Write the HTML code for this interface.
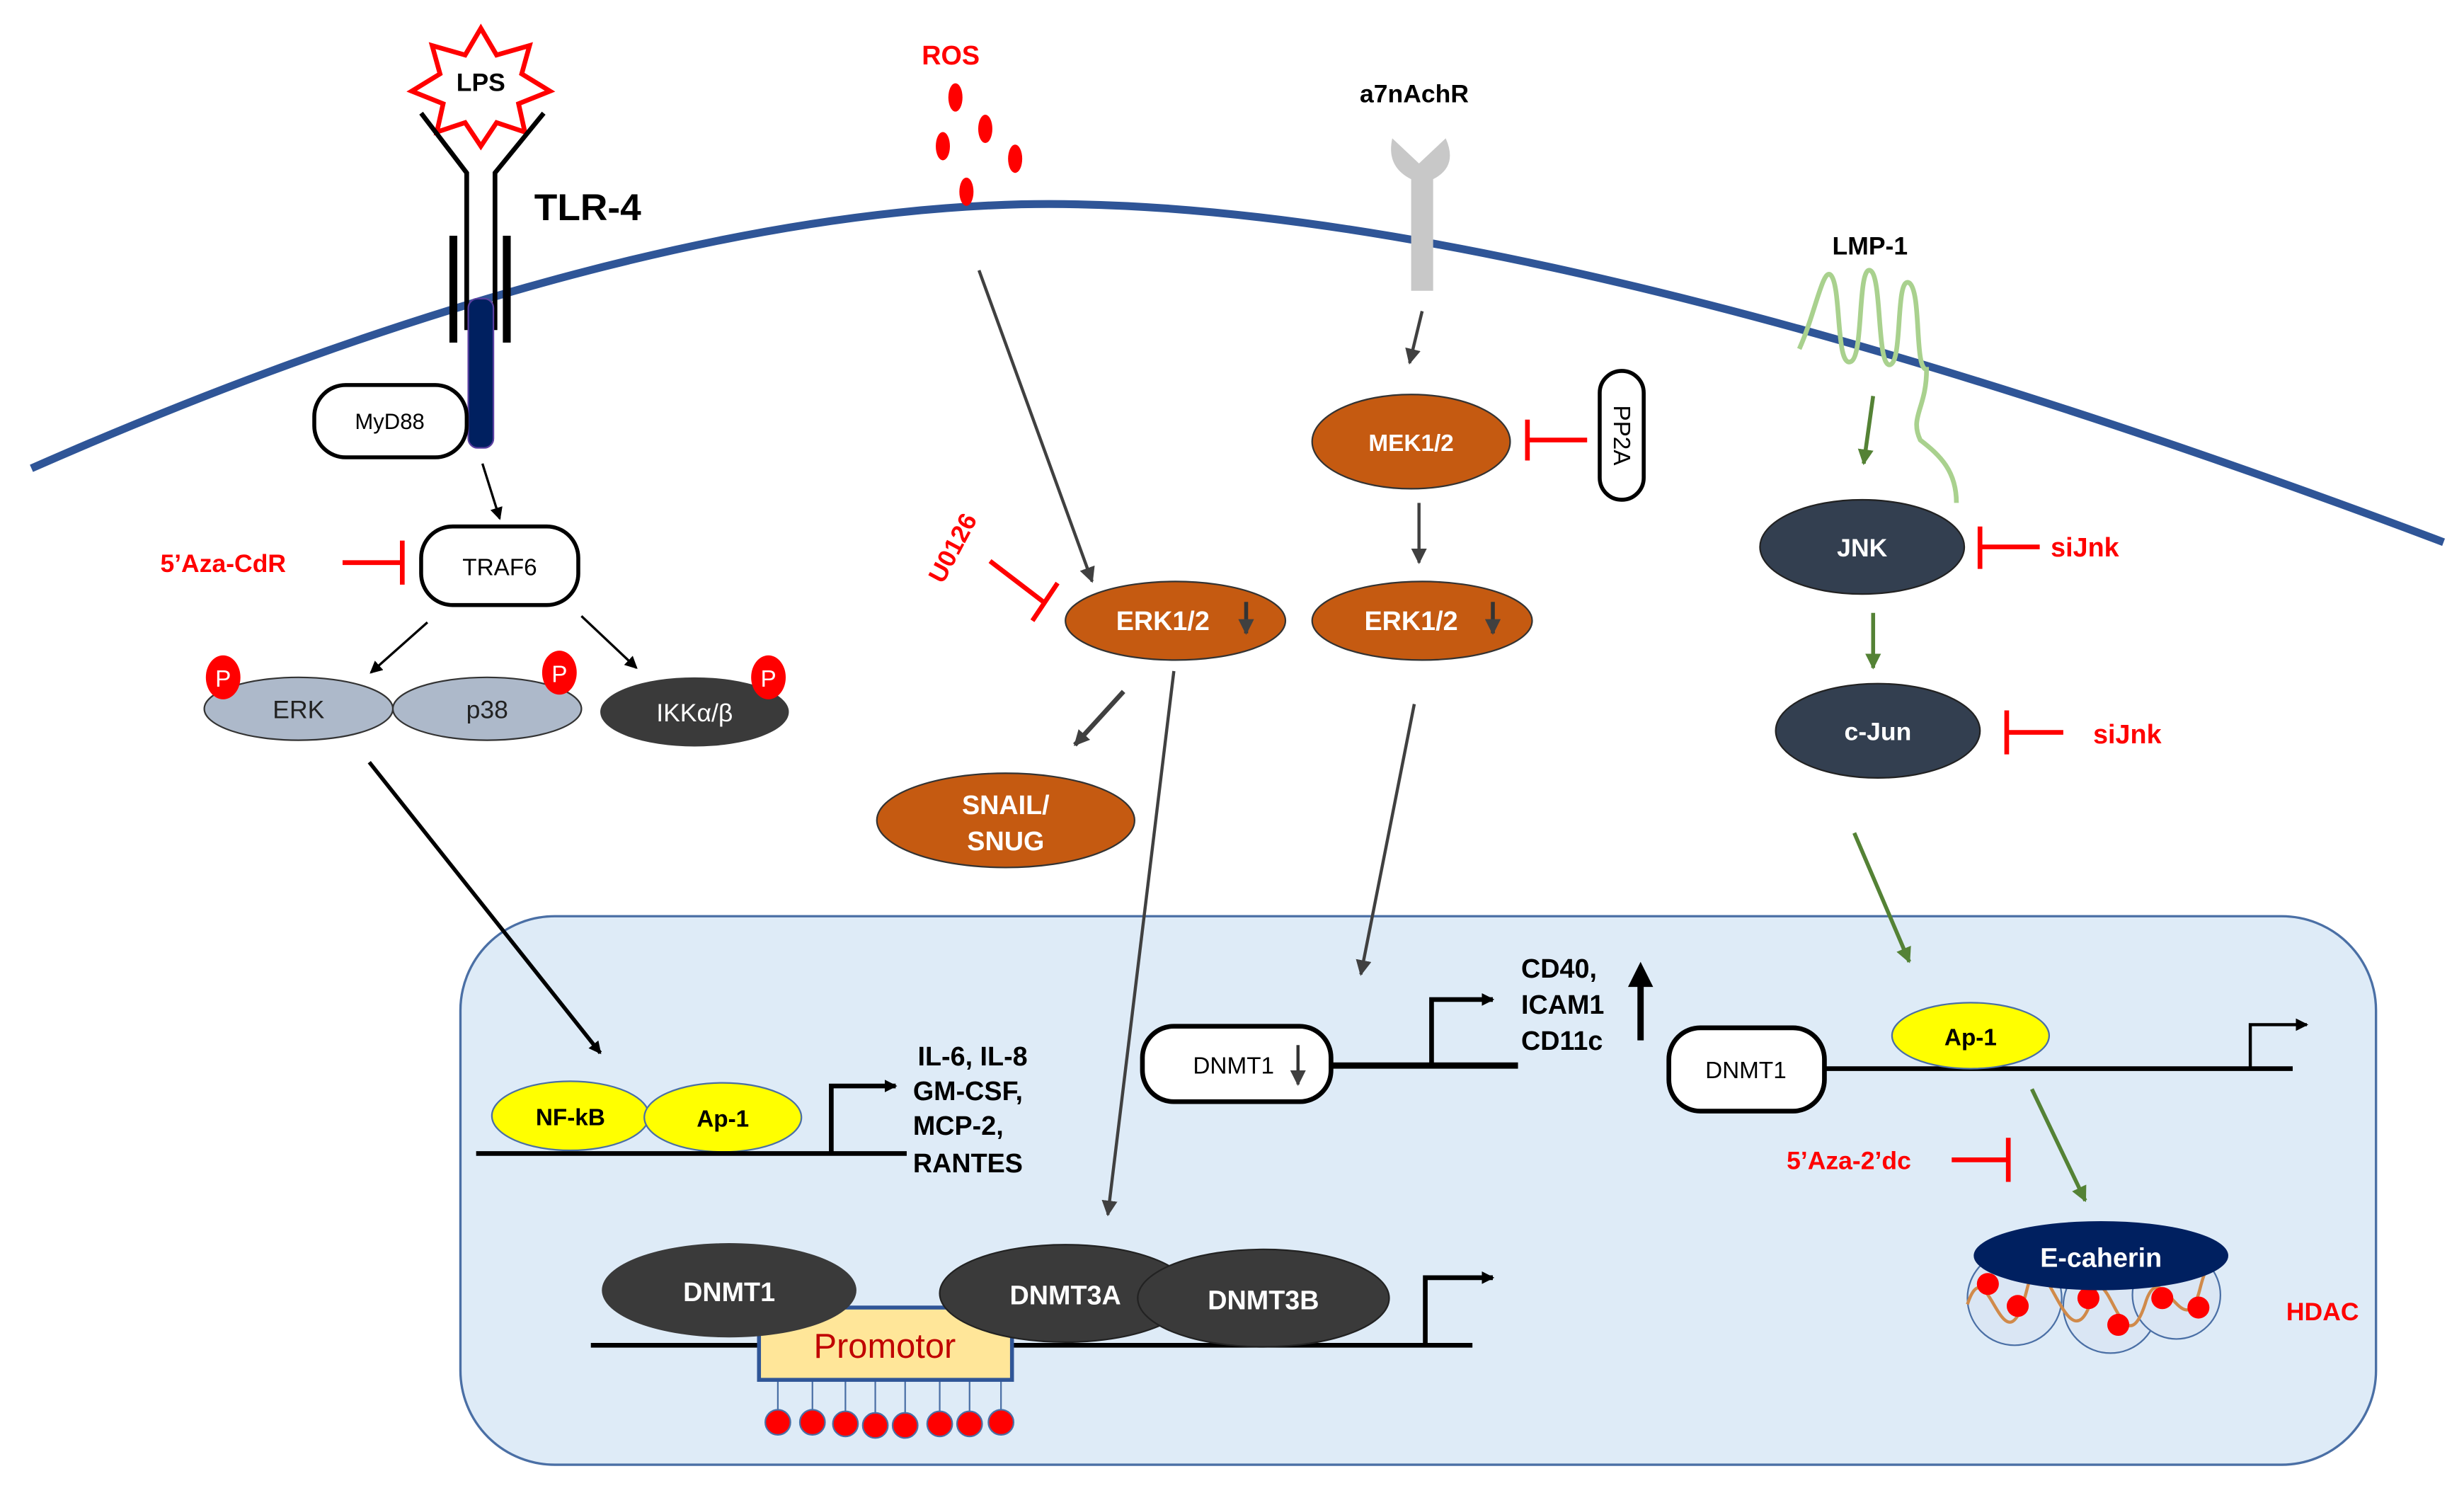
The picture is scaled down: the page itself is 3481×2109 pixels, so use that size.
<!DOCTYPE html>
<html><head><meta charset="utf-8"><style>
html,body{margin:0;padding:0;background:#fff;}
svg{display:block;}
text{font-family:"Liberation Sans",sans-serif;}
</style></head><body>
<svg width="3481" height="2109" viewBox="0 0 1568 950" preserveAspectRatio="none" xmlns="http://www.w3.org/2000/svg">
<defs>
<marker id="ab" markerWidth="8" markerHeight="8" refX="7" refY="4" orient="auto" markerUnits="userSpaceOnUse"><path d="M0,0 L8,4 L0,8 z" fill="#000"/></marker>
<marker id="ag" markerWidth="10" markerHeight="10" refX="9" refY="5" orient="auto" markerUnits="userSpaceOnUse"><path d="M0,0 L10,5 L0,10 z" fill="#404040"/></marker>
<marker id="agr" markerWidth="10" markerHeight="10" refX="9" refY="5" orient="auto" markerUnits="userSpaceOnUse"><path d="M0,0 L10,5 L0,10 z" fill="#548235"/></marker>
</defs>

<rect x="293" y="583" width="1219" height="349" rx="60" fill="#deebf7" stroke="#4a6fa5" stroke-width="1.5"/>

<path d="M20,298 C220,210 450,135 650,130 C900,125 1250,230 1555,345" fill="none" stroke="#2f5597" stroke-width="5"/>

<polygon points="306,18 316,35 337,29 332,47 350,58 330,66 334,84 316,78 306,93 296,78 278,84 282,66 262,58 280,47 275,29 296,35" fill="#fff" stroke="#ff0000" stroke-width="3"/>
<text x="306" y="58" font-size="16" font-weight="bold" text-anchor="middle">LPS</text>
<g stroke="#000" stroke-width="3" fill="none">
<path d="M268,72 L297,110 L297,210"/><path d="M346,72 L315,110 L315,210"/>
</g>
<rect x="286" y="150" width="5" height="68" fill="#000"/>
<rect x="320" y="150" width="5" height="68" fill="#000"/>
<rect x="298" y="190" width="16" height="95" rx="6" fill="#002060" stroke="#5a3fa0" stroke-width="1"/>
<text x="340" y="140" font-size="24" font-weight="bold">TLR-4</text>
<rect x="200" y="245" width="97" height="46" rx="20" fill="#fff" stroke="#000" stroke-width="2.5"/>
<text x="248" y="273" font-size="14" text-anchor="middle">MyD88</text>
<line x1="307" y1="295" x2="318" y2="330" stroke="#000" stroke-width="1.5" marker-end="url(#ab)"/>
<rect x="268" y="335" width="100" height="50" rx="20" fill="#fff" stroke="#000" stroke-width="2.5"/>
<text x="318" y="366" font-size="15" text-anchor="middle">TRAF6</text>
<text x="102" y="364" font-size="16" font-weight="bold" fill="#ff0000">5’Aza-CdR</text>
<line x1="218" y1="358" x2="255" y2="358" stroke="#ff0000" stroke-width="3"/>
<line x1="256" y1="344" x2="256" y2="372" stroke="#ff0000" stroke-width="3"/>
<line x1="272" y1="396" x2="236" y2="428" stroke="#000" stroke-width="1.5" marker-end="url(#ab)"/>
<line x1="370" y1="392" x2="405" y2="425" stroke="#000" stroke-width="1.5" marker-end="url(#ab)"/>
<ellipse cx="190" cy="451" rx="60" ry="20" fill="#adb9ca" stroke="#333" stroke-width="1"/>
<ellipse cx="310" cy="451" rx="60" ry="20" fill="#adb9ca" stroke="#333" stroke-width="1"/>
<text x="190" y="457" font-size="16" text-anchor="middle" fill="#222">ERK</text>
<text x="310" y="457" font-size="16" text-anchor="middle" fill="#222">p38</text>
<ellipse cx="442" cy="453" rx="60" ry="22" fill="#3a3a3a"/>
<text x="442" y="459" font-size="16" text-anchor="middle" fill="#fff">IKKα/β</text>
<g fill="#ff0000"><ellipse cx="142" cy="431" rx="11" ry="14"/><ellipse cx="356" cy="428" rx="11" ry="14"/><ellipse cx="489" cy="431" rx="11" ry="14"/></g>
<g font-size="15" fill="#fff" text-anchor="middle"><text x="142" y="437">P</text><text x="356" y="434">P</text><text x="489" y="437">P</text></g>
<line x1="235" y1="485" x2="382" y2="670" stroke="#000" stroke-width="2.5" marker-end="url(#ab)"/>

<text x="605" y="41" font-size="17" font-weight="bold" fill="#ff0000" text-anchor="middle">ROS</text>
<g fill="#ff0000"><ellipse cx="608" cy="62" rx="4.5" ry="9"/><ellipse cx="627" cy="82" rx="4.5" ry="9"/><ellipse cx="600" cy="93" rx="4.5" ry="9"/><ellipse cx="646" cy="101" rx="4.5" ry="9"/><ellipse cx="615" cy="122" rx="4.5" ry="9"/></g>
<line x1="623" y1="172" x2="695" y2="370" stroke="#404040" stroke-width="2" marker-end="url(#ag)"/>
<text x="0" y="0" font-size="16" font-weight="bold" fill="#ff0000" transform="translate(600,372) rotate(-62)">U0126</text>
<line x1="630" y1="357" x2="664" y2="383" stroke="#ff0000" stroke-width="3"/>
<line x1="673" y1="371" x2="657" y2="395" stroke="#ff0000" stroke-width="3"/>
<ellipse cx="748" cy="395" rx="70" ry="25" fill="#c55a11" stroke="#333" stroke-width="1"/>
<text x="740" y="401" font-size="17" font-weight="bold" fill="#fff" text-anchor="middle">ERK1/2</text>
<line x1="793" y1="383" x2="793" y2="403" stroke="#333" stroke-width="2.5" marker-end="url(#ag)"/>
<line x1="715" y1="440" x2="684" y2="474" stroke="#404040" stroke-width="3" marker-end="url(#ag)"/>
<ellipse cx="640" cy="522" rx="82" ry="30" fill="#c55a11" stroke="#333" stroke-width="1"/>
<text x="640" y="518" font-size="17" font-weight="bold" fill="#fff" text-anchor="middle">SNAIL/</text>
<text x="640" y="541" font-size="17" font-weight="bold" fill="#fff" text-anchor="middle">SNUG</text>
<line x1="747" y1="427" x2="705" y2="773" stroke="#404040" stroke-width="2" marker-end="url(#ag)"/>

<text x="900" y="65" font-size="16" font-weight="bold" text-anchor="middle">a7nAchR</text>
<path d="M886,88 L903,104 L920,88 Q928,106 912,114 L912,185 L898,185 L898,114 Q882,106 886,88 z" fill="#c8c8c8"/>
<line x1="905" y1="198" x2="897" y2="231" stroke="#404040" stroke-width="2" marker-end="url(#ag)"/>
<ellipse cx="898" cy="281" rx="63" ry="30" fill="#c55a11" stroke="#333" stroke-width="1"/>
<text x="898" y="287" font-size="15" font-weight="bold" fill="#fff" text-anchor="middle">MEK1/2</text>
<rect x="1018" y="236" width="28" height="82" rx="14" fill="#fff" stroke="#000" stroke-width="2.5"/>
<text x="0" y="0" font-size="15" text-anchor="middle" transform="translate(1027,277) rotate(90)">PP2A</text>
<line x1="1010" y1="280" x2="973" y2="280" stroke="#ff0000" stroke-width="3"/>
<line x1="972" y1="267" x2="972" y2="293" stroke="#ff0000" stroke-width="3"/>
<line x1="903" y1="320" x2="903" y2="358" stroke="#404040" stroke-width="2" marker-end="url(#ag)"/>
<ellipse cx="905" cy="395" rx="70" ry="25" fill="#c55a11" stroke="#333" stroke-width="1"/>
<text x="898" y="401" font-size="17" font-weight="bold" fill="#fff" text-anchor="middle">ERK1/2</text>
<line x1="950" y1="383" x2="950" y2="403" stroke="#333" stroke-width="2.5" marker-end="url(#ag)"/>
<line x1="900" y1="448" x2="866" y2="620" stroke="#404040" stroke-width="2" marker-end="url(#ag)"/>

<text x="1190" y="162" font-size="16" font-weight="bold" text-anchor="middle">LMP-1</text>
<path d="M1145,222 C1155,200 1160,170 1165,175 C1172,182 1168,235 1178,230 C1186,226 1182,170 1190,172 C1198,175 1194,235 1203,232 C1211,229 1206,175 1215,180 C1223,186 1218,235 1226,235 C1226,260 1215,265 1222,280 C1235,290 1245,300 1245,320" fill="none" stroke="#a9d18e" stroke-width="3"/>
<line x1="1192" y1="252" x2="1186" y2="295" stroke="#548235" stroke-width="2.5" marker-end="url(#agr)"/>
<ellipse cx="1185" cy="348" rx="65" ry="30" fill="#333f50" stroke="#222" stroke-width="1"/>
<text x="1185" y="354" font-size="16" font-weight="bold" fill="#fff" text-anchor="middle">JNK</text>
<line x1="1260" y1="335" x2="1260" y2="362" stroke="#ff0000" stroke-width="3"/>
<line x1="1260" y1="348" x2="1298" y2="348" stroke="#ff0000" stroke-width="3"/>
<text x="1305" y="354" font-size="17" font-weight="bold" fill="#ff0000">siJnk</text>
<line x1="1192" y1="390" x2="1192" y2="425" stroke="#548235" stroke-width="2.5" marker-end="url(#agr)"/>
<ellipse cx="1195" cy="465" rx="65" ry="30" fill="#333f50" stroke="#222" stroke-width="1"/>
<text x="1195" y="471" font-size="16" font-weight="bold" fill="#fff" text-anchor="middle">c-Jun</text>
<line x1="1277" y1="452" x2="1277" y2="480" stroke="#ff0000" stroke-width="3"/>
<line x1="1277" y1="466" x2="1313" y2="466" stroke="#ff0000" stroke-width="3"/>
<text x="1332" y="473" font-size="17" font-weight="bold" fill="#ff0000">siJnk</text>
<line x1="1180" y1="530" x2="1215" y2="612" stroke="#548235" stroke-width="2.5" marker-end="url(#agr)"/>

<ellipse cx="363" cy="710" rx="50" ry="22" fill="#ffff00" stroke="#4a6fa5" stroke-width="1"/>
<ellipse cx="460" cy="711" rx="50" ry="22" fill="#ffff00" stroke="#4a6fa5" stroke-width="1"/>
<text x="363" y="716" font-size="15" font-weight="bold" text-anchor="middle">NF-kB</text>
<text x="460" y="717" font-size="15" font-weight="bold" text-anchor="middle">Ap-1</text>
<line x1="303" y1="734" x2="577" y2="734" stroke="#000" stroke-width="3"/>
<path d="M529,734 L529,691 L570,691" fill="none" stroke="#000" stroke-width="3" marker-end="url(#ab)"/>
<g font-size="17" font-weight="bold"><text x="584" y="678">IL-6, IL-8</text><text x="581" y="700">GM-CSF,</text><text x="581" y="722">MCP-2,</text><text x="581" y="746">RANTES</text></g>

<rect x="727" y="653" width="120" height="48" rx="20" fill="#fff" stroke="#000" stroke-width="3"/>
<text x="785" y="683" font-size="15" text-anchor="middle">DNMT1</text>
<line x1="826" y1="665" x2="826" y2="690" stroke="#333" stroke-width="2" marker-end="url(#ag)"/>
<line x1="847" y1="678" x2="966" y2="678" stroke="#000" stroke-width="4"/>
<path d="M911,678 L911,636 L950,636" fill="none" stroke="#000" stroke-width="3" marker-end="url(#ab)"/>
<g font-size="17" font-weight="bold"><text x="968" y="622">CD40,</text><text x="968" y="645">ICAM1</text><text x="968" y="668">CD11c</text></g>
<line x1="1044" y1="662" x2="1044" y2="625" stroke="#000" stroke-width="4"/>
<polygon points="1036,628 1044,612 1052,628" fill="#000"/>

<rect x="1062" y="654" width="99" height="53" rx="20" fill="#fff" stroke="#000" stroke-width="3"/>
<text x="1111" y="686" font-size="15" text-anchor="middle">DNMT1</text>
<line x1="1161" y1="680" x2="1459" y2="680" stroke="#000" stroke-width="3"/>
<ellipse cx="1254" cy="659" rx="50" ry="21" fill="#ffff00" stroke="#4a6fa5" stroke-width="1"/>
<text x="1254" y="665" font-size="15" font-weight="bold" text-anchor="middle">Ap-1</text>
<path d="M1432,680 L1432,652 L1468,652" fill="none" stroke="#000" stroke-width="2" marker-end="url(#ab)"/>
<line x1="1293" y1="693" x2="1327" y2="764" stroke="#548235" stroke-width="2.5" marker-end="url(#agr)"/>
<text x="1137" y="744" font-size="16" font-weight="bold" fill="#ff0000">5’Aza-2’dc</text>
<line x1="1242" y1="738" x2="1277" y2="738" stroke="#ff0000" stroke-width="3"/>
<line x1="1278" y1="724" x2="1278" y2="752" stroke="#ff0000" stroke-width="3"/>

<g fill="#dae6f4" stroke="#4a6fa5" stroke-width="1"><circle cx="1282" cy="826" r="30"/><circle cx="1343" cy="831" r="30"/><circle cx="1385" cy="824" r="28"/></g>
<path d="M1252,830 C1265,790 1275,880 1290,820 C1300,780 1315,870 1330,830 C1340,790 1350,875 1365,830 C1375,795 1390,860 1400,820 C1405,800 1410,800 1412,795" fill="none" stroke="#d08a4a" stroke-width="2"/>
<g fill="#ff0000"><circle cx="1265" cy="817" r="7"/><circle cx="1284" cy="831" r="7"/><circle cx="1329" cy="826" r="7"/><circle cx="1348" cy="843" r="7"/><circle cx="1376" cy="826" r="7"/><circle cx="1399" cy="832" r="7"/></g>
<ellipse cx="1337" cy="799" rx="81" ry="22" fill="#002060"/>
<text x="1337" y="806" font-size="17" font-weight="bold" fill="#fff" text-anchor="middle">E-caherin</text>
<text x="1478" y="840" font-size="16" font-weight="bold" fill="#ff0000" text-anchor="middle">HDAC</text>

<line x1="376" y1="856" x2="937" y2="856" stroke="#000" stroke-width="3"/>
<path d="M907,856 L907,813 L950,813" fill="none" stroke="#000" stroke-width="3" marker-end="url(#ab)"/>
<g stroke="#4a6fa5" stroke-width="1">
<line x1="495" y1="878" x2="495" y2="905"/><line x1="517" y1="878" x2="517" y2="905"/><line x1="538" y1="878" x2="538" y2="905"/><line x1="557" y1="878" x2="557" y2="905"/><line x1="576" y1="878" x2="576" y2="905"/><line x1="598" y1="878" x2="598" y2="905"/><line x1="617" y1="878" x2="617" y2="905"/><line x1="637" y1="878" x2="637" y2="905"/>
</g>
<g fill="#ff0000" stroke="#4a6fa5" stroke-width="1">
<ellipse cx="495" cy="905" rx="8" ry="8"/><ellipse cx="517" cy="905" rx="8" ry="8"/><ellipse cx="538" cy="906" rx="8" ry="8"/><ellipse cx="557" cy="907" rx="8" ry="8"/><ellipse cx="576" cy="907" rx="8" ry="8"/><ellipse cx="598" cy="906" rx="8" ry="8"/><ellipse cx="617" cy="906" rx="8" ry="8"/><ellipse cx="637" cy="905" rx="8" ry="8"/>
</g>
<rect x="483" y="832" width="161" height="46" fill="#ffe699" stroke="#2f5597" stroke-width="2.5"/>
<text x="563" y="864" font-size="22" fill="#c00000" text-anchor="middle">Promotor</text>
<ellipse cx="464" cy="821" rx="81" ry="30" fill="#3a3a3a"/>
<text x="464" y="828" font-size="17" font-weight="bold" fill="#fff" text-anchor="middle">DNMT1</text>
<ellipse cx="678" cy="823" rx="80" ry="31" fill="#3a3a3a" stroke="#222"/>
<text x="678" y="830" font-size="17" font-weight="bold" fill="#fff" text-anchor="middle">DNMT3A</text>
<ellipse cx="804" cy="826" rx="80" ry="31" fill="#3a3a3a" stroke="#222"/>
<text x="804" y="833" font-size="17" font-weight="bold" fill="#fff" text-anchor="middle">DNMT3B</text>
</svg>
</body></html>
